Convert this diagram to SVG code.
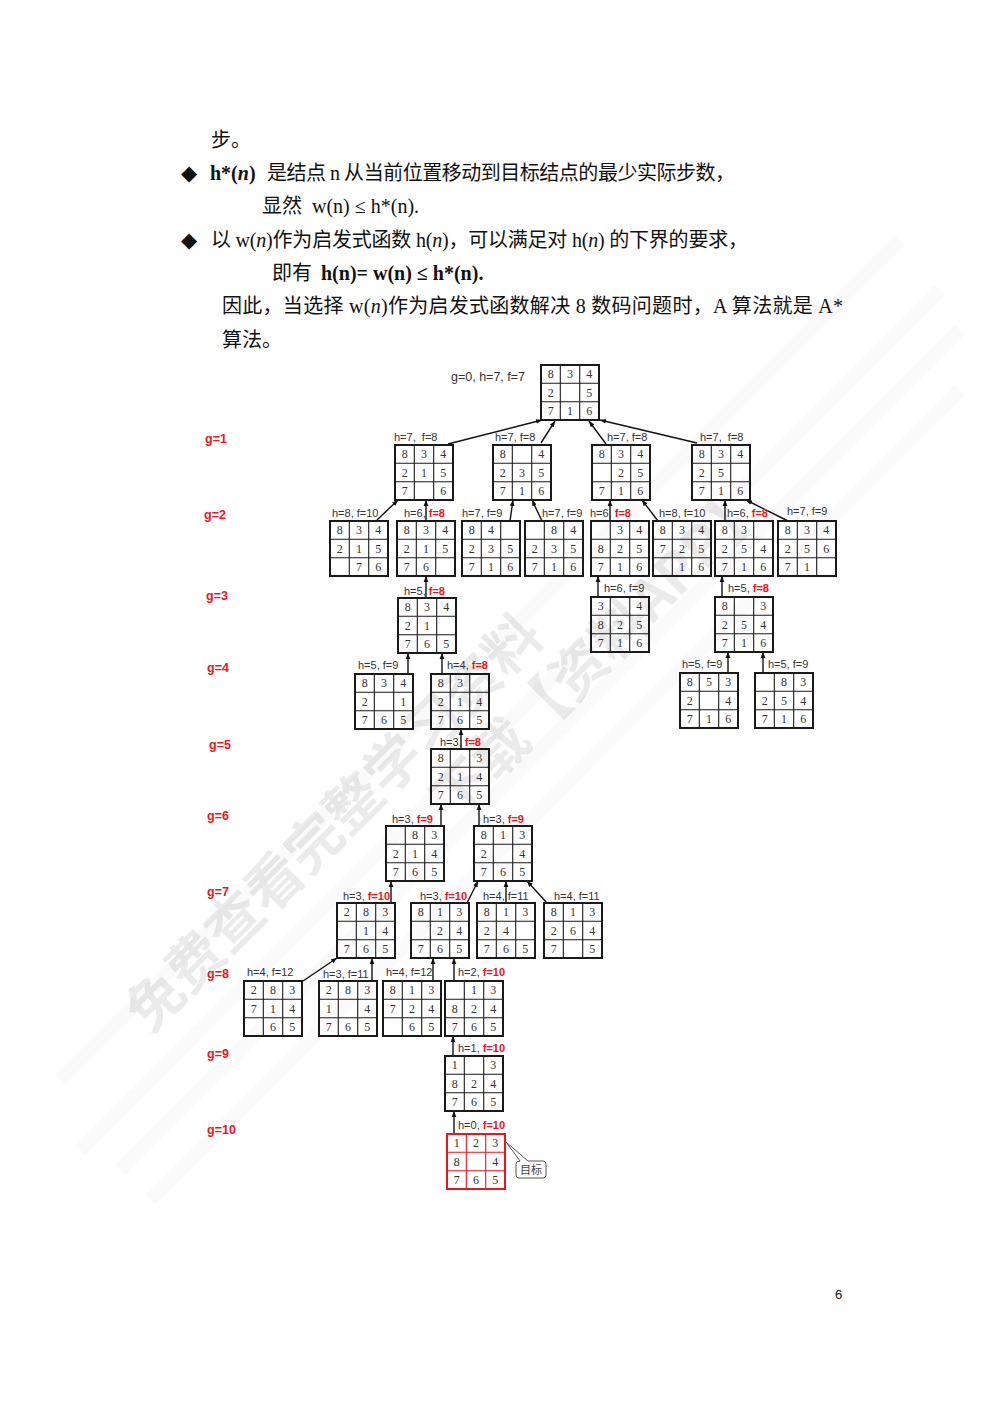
<svg xmlns="http://www.w3.org/2000/svg" width="993" height="1404" viewBox="0 0 993 1404">
<style>
.body{font-family:"Liberation Serif","Noto Sans CJK SC",serif;font-size:20px;fill:#111}
.b{font-weight:bold}
.dia{font-family:"DejaVu Sans",sans-serif;font-size:21px;fill:#111}
.n{font-family:"Liberation Serif",serif;font-size:12px;fill:#333;text-anchor:middle}
.lb{font-family:"Liberation Sans",Arial,sans-serif;font-size:11px;fill:#333}
.r{fill:#e8161e;font-weight:bold}
.g{font-family:"Liberation Sans",Arial,sans-serif;font-size:12.5px;font-weight:bold;fill:#e8161e}
.e{stroke:#111;stroke-width:1.4;fill:none;marker-end:url(#ah)}
.wm{font-family:"Noto Sans CJK SC",sans-serif;font-size:56px;font-weight:bold;fill:#000;fill-opacity:0.08}
</style>
<defs>
<marker id="ah" viewBox="0 0 10 10" refX="10" refY="5" markerUnits="userSpaceOnUse" markerWidth="6" markerHeight="6" orient="auto"><path d="M0 1L10 5L0 9z" fill="#111"/></marker>
<g id="grid" fill="none" stroke="currentColor"><rect x="0" y="0" width="58" height="55" stroke-width="2"/><path d="M19.3 0V55M38.7 0V55M0 18.3H58M0 36.7H58" stroke-width="1.1"/></g>
</defs>
<rect width="993" height="1404" fill="#fff"/>
<g id="watermark">
<path d="M80 1150L940 290M120 1170L960 330M60 1080L900 240M150 1200L960 390" stroke="#000" stroke-opacity="0.02" stroke-width="14" fill="none"/>
<text class="wm" transform="translate(150,1035) rotate(-45)">免费查看完整学习资料</text>
<text class="wm" transform="translate(455,822) rotate(-45)">下载【资料APP】</text>
</g>
<g id="text">
<text class="body" x="211" y="147">步。</text>
<text class="dia" x="181" y="180">◆</text>
<text class="body b" x="210" y="180">h*(<tspan font-style="italic">n</tspan>)</text>
<text class="body" x="267" y="180" textLength="468" lengthAdjust="spacing">是结点 n 从当前位置移动到目标结点的最少实际步数，</text>
<text class="body" x="262" y="213">显然</text>
<text class="body" x="312" y="213">w(n) ≤ h*(n).</text>
<text class="dia" x="181" y="247">◆</text>
<text class="body" x="211" y="247" textLength="537" lengthAdjust="spacing">以 w(<tspan font-style="italic">n</tspan>)作为启发式函数 h(<tspan font-style="italic">n</tspan>)，可以满足对 h(<tspan font-style="italic">n</tspan>) 的下界的要求，</text>
<text class="body" x="272" y="280">即有</text>
<text class="body b" x="321" y="280">h(n)= w(n) ≤ h*(n).</text>
<text class="body" x="222" y="313" textLength="621" lengthAdjust="spacing">因此，当选择 w(<tspan font-style="italic">n</tspan>)作为启发式函数解决 8 数码问题时，A 算法就是 A*</text>
<text class="body" x="222" y="347">算法。</text>
<text x="835" y="1299" font-family="Liberation Sans,sans-serif" font-size="13" fill="#111">6</text>
</g>
<g id="levels">
<text class="g" x="205" y="443">g=1</text>
<text class="g" x="204" y="519">g=2</text>
<text class="g" x="206" y="600">g=3</text>
<text class="g" x="207" y="672">g=4</text>
<text class="g" x="209" y="749">g=5</text>
<text class="g" x="207" y="820">g=6</text>
<text class="g" x="207" y="896">g=7</text>
<text class="g" x="207" y="978">g=8</text>
<text class="g" x="207" y="1058">g=9</text>
<text class="g" x="207" y="1134">g=10</text>
</g>
<g id="connectors">
<path class="e" d="M448 444L542 420"/>
<path class="e" d="M541 443L555 421"/>
<path class="e" d="M606 444L589 421"/>
<path class="e" d="M697 443L600 420"/>
<path class="e" d="M377 520L398 500"/>
<path class="e" d="M426 521V500"/>
<path class="e" d="M510 521L513 500"/>
<path class="e" d="M542 521L532 500"/>
<path class="e" d="M610 521V500"/>
<path class="e" d="M658 521L642 500"/>
<path class="e" d="M725 521V500"/>
<path class="e" d="M788 521L746 500"/>
<path class="e" d="M426 598V576"/>
<path class="e" d="M598 597V576"/>
<path class="e" d="M722 597V576"/>
<path class="e" d="M408 674V653"/>
<path class="e" d="M442 674V653"/>
<path class="e" d="M728 673V652"/>
<path class="e" d="M763 673V652"/>
<path class="e" d="M461 749V729"/>
<path class="e" d="M441 826V804"/>
<path class="e" d="M479 826V804"/>
<path class="e" d="M391 903V881"/>
<path class="e" d="M467 903L478 881"/>
<path class="e" d="M506 903V881"/>
<path class="e" d="M547 903L527 881"/>
<path class="e" d="M303 981L337 958"/>
<path class="e" d="M372 981V958"/>
<path class="e" d="M433 981V958"/>
<path class="e" d="M454 981V958"/>
<path class="e" d="M453 1056V1036"/>
<path class="e" d="M454 1134V1111"/>
</g>
<g id="n0" transform="translate(541,365)" color="#1a1a1a"><use href="#grid"/><text class="n" x="9.7 29 48.3" y="13.4">834</text><text class="n" x="9.7 48.3" y="31.7">25</text><text class="n" x="9.7 29 48.3" y="50">716</text><text class="lb" x="-90" y="16" style="font-size:12.5px">g=0, h=7, f=7</text></g>
<g id="n1a" transform="translate(395,445)" color="#1a1a1a"><use href="#grid"/><text class="n" x="9.7 29 48.3" y="13.4">834</text><text class="n" x="9.7 29 48.3" y="31.7">215</text><text class="n" x="9.7 48.3" y="50">76</text><text class="lb" x="-1" y="-4">h=7,&#160; f=8</text></g>
<g id="n1b" transform="translate(493,445)" color="#1a1a1a"><use href="#grid"/><text class="n" x="9.7 48.3" y="13.4">84</text><text class="n" x="9.7 29 48.3" y="31.7">235</text><text class="n" x="9.7 29 48.3" y="50">716</text><text class="lb" x="2" y="-4">h=7, f=8</text></g>
<g id="n1c" transform="translate(592,445)" color="#1a1a1a"><use href="#grid"/><text class="n" x="9.7 29 48.3" y="13.4">834</text><text class="n" x="29 48.3" y="31.7">25</text><text class="n" x="9.7 29 48.3" y="50">716</text><text class="lb" x="15" y="-4">h=7, f=8</text></g>
<g id="n1d" transform="translate(692,445)" color="#1a1a1a"><use href="#grid"/><text class="n" x="9.7 29 48.3" y="13.4">834</text><text class="n" x="9.7 29" y="31.7">25</text><text class="n" x="9.7 29 48.3" y="50">716</text><text class="lb" x="8" y="-4">h=7,&#160; f=8</text></g>
<g id="n2a" transform="translate(330,521)" color="#1a1a1a"><use href="#grid"/><text class="n" x="9.7 29 48.3" y="13.4">834</text><text class="n" x="9.7 29 48.3" y="31.7">215</text><text class="n" x="29 48.3" y="50">76</text><text class="lb" x="2" y="-4">h=8, f=10</text></g>
<g id="n2b" transform="translate(397,521)" color="#1a1a1a"><use href="#grid"/><text class="n" x="9.7 29 48.3" y="13.4">834</text><text class="n" x="9.7 29 48.3" y="31.7">215</text><text class="n" x="9.7 29" y="50">76</text><text class="lb" x="7" y="-4">h=6, <tspan class="r">f=8</tspan></text></g>
<g id="n2c" transform="translate(462,521)" color="#1a1a1a"><use href="#grid"/><text class="n" x="9.7 29" y="13.4">84</text><text class="n" x="9.7 29 48.3" y="31.7">235</text><text class="n" x="9.7 29 48.3" y="50">716</text><text class="lb" x="0" y="-4">h=7, f=9</text></g>
<g id="n2d" transform="translate(525,521)" color="#1a1a1a"><use href="#grid"/><text class="n" x="29 48.3" y="13.4">84</text><text class="n" x="9.7 29 48.3" y="31.7">235</text><text class="n" x="9.7 29 48.3" y="50">716</text><text class="lb" x="17" y="-4">h=7, f=9</text></g>
<g id="n2e" transform="translate(591,521)" color="#1a1a1a"><use href="#grid"/><text class="n" x="29 48.3" y="13.4">34</text><text class="n" x="9.7 29 48.3" y="31.7">825</text><text class="n" x="9.7 29 48.3" y="50">716</text><text class="lb" x="-1" y="-4">h=6, <tspan class="r">f=8</tspan></text></g>
<g id="n2f" transform="translate(653,521)" color="#1a1a1a"><use href="#grid"/><text class="n" x="9.7 29 48.3" y="13.4">834</text><text class="n" x="9.7 29 48.3" y="31.7">725</text><text class="n" x="29 48.3" y="50">16</text><text class="lb" x="6" y="-4">h=8, f=10</text></g>
<g id="n2g" transform="translate(715,521)" color="#1a1a1a"><use href="#grid"/><text class="n" x="9.7 29" y="13.4">83</text><text class="n" x="9.7 29 48.3" y="31.7">254</text><text class="n" x="9.7 29 48.3" y="50">716</text><text class="lb" x="12" y="-4">h=6, <tspan class="r">f=8</tspan></text></g>
<g id="n2h" transform="translate(778,521)" color="#1a1a1a"><use href="#grid"/><text class="n" x="9.7 29 48.3" y="13.4">834</text><text class="n" x="9.7 29 48.3" y="31.7">256</text><text class="n" x="9.7 29" y="50">71</text><text class="lb" x="9" y="-6">h=7, f=9</text></g>
<g id="n3a" transform="translate(398,598)" color="#1a1a1a"><use href="#grid"/><text class="n" x="9.7 29 48.3" y="13.4">834</text><text class="n" x="9.7 29" y="31.7">21</text><text class="n" x="9.7 29 48.3" y="50">765</text><text class="lb" x="6" y="-3">h=5, <tspan class="r">f=8</tspan></text></g>
<g id="n3b" transform="translate(591,597)" color="#1a1a1a"><use href="#grid"/><text class="n" x="9.7 48.3" y="13.4">34</text><text class="n" x="9.7 29 48.3" y="31.7">825</text><text class="n" x="9.7 29 48.3" y="50">716</text><text class="lb" x="13" y="-5">h=6, f=9</text></g>
<g id="n3c" transform="translate(715,597)" color="#1a1a1a"><use href="#grid"/><text class="n" x="9.7 48.3" y="13.4">83</text><text class="n" x="9.7 29 48.3" y="31.7">254</text><text class="n" x="9.7 29 48.3" y="50">716</text><text class="lb" x="13" y="-5">h=5, <tspan class="r">f=8</tspan></text></g>
<g id="n4a" transform="translate(355,674)" color="#1a1a1a"><use href="#grid"/><text class="n" x="9.7 29 48.3" y="13.4">834</text><text class="n" x="9.7 48.3" y="31.7">21</text><text class="n" x="9.7 29 48.3" y="50">765</text><text class="lb" x="3" y="-5">h=5, f=9</text></g>
<g id="n4b" transform="translate(431,674)" color="#1a1a1a"><use href="#grid"/><text class="n" x="9.7 29" y="13.4">83</text><text class="n" x="9.7 29 48.3" y="31.7">214</text><text class="n" x="9.7 29 48.3" y="50">765</text><text class="lb" x="16" y="-5">h=4, <tspan class="r">f=8</tspan></text></g>
<g id="n4c" transform="translate(680,673)" color="#1a1a1a"><use href="#grid"/><text class="n" x="9.7 29 48.3" y="13.4">853</text><text class="n" x="9.7 48.3" y="31.7">24</text><text class="n" x="9.7 29 48.3" y="50">716</text><text class="lb" x="2" y="-5">h=5, f=9</text></g>
<g id="n4d" transform="translate(755,673)" color="#1a1a1a"><use href="#grid"/><text class="n" x="29 48.3" y="13.4">83</text><text class="n" x="9.7 29 48.3" y="31.7">254</text><text class="n" x="9.7 29 48.3" y="50">716</text><text class="lb" x="13" y="-5">h=5, f=9</text></g>
<g id="n5" transform="translate(431,749)" color="#1a1a1a"><use href="#grid"/><text class="n" x="9.7 48.3" y="13.4">83</text><text class="n" x="9.7 29 48.3" y="31.7">214</text><text class="n" x="9.7 29 48.3" y="50">765</text><text class="lb" x="9" y="-3">h=3, <tspan class="r">f=8</tspan></text></g>
<g id="n6a" transform="translate(386,826)" color="#1a1a1a"><use href="#grid"/><text class="n" x="29 48.3" y="13.4">83</text><text class="n" x="9.7 29 48.3" y="31.7">214</text><text class="n" x="9.7 29 48.3" y="50">765</text><text class="lb" x="6" y="-3">h=3, <tspan class="r">f=9</tspan></text></g>
<g id="n6b" transform="translate(474,826)" color="#1a1a1a"><use href="#grid"/><text class="n" x="9.7 29 48.3" y="13.4">813</text><text class="n" x="9.7 48.3" y="31.7">24</text><text class="n" x="9.7 29 48.3" y="50">765</text><text class="lb" x="9" y="-3">h=3, <tspan class="r">f=9</tspan></text></g>
<g id="n7a" transform="translate(337,903)" color="#1a1a1a"><use href="#grid"/><text class="n" x="9.7 29 48.3" y="13.4">283</text><text class="n" x="29 48.3" y="31.7">14</text><text class="n" x="9.7 29 48.3" y="50">765</text><text class="lb" x="6" y="-3">h=3, <tspan class="r">f=10</tspan></text></g>
<g id="n7b" transform="translate(411,903)" color="#1a1a1a"><use href="#grid"/><text class="n" x="9.7 29 48.3" y="13.4">813</text><text class="n" x="29 48.3" y="31.7">24</text><text class="n" x="9.7 29 48.3" y="50">765</text><text class="lb" x="9" y="-3">h=3, <tspan class="r">f=10</tspan></text></g>
<g id="n7c" transform="translate(477,903)" color="#1a1a1a"><use href="#grid"/><text class="n" x="9.7 29 48.3" y="13.4">813</text><text class="n" x="9.7 29" y="31.7">24</text><text class="n" x="9.7 29 48.3" y="50">765</text><text class="lb" x="6" y="-3">h=4, f=11</text></g>
<g id="n7d" transform="translate(544,903)" color="#1a1a1a"><use href="#grid"/><text class="n" x="9.7 29 48.3" y="13.4">813</text><text class="n" x="9.7 29 48.3" y="31.7">264</text><text class="n" x="9.7 48.3" y="50">75</text><text class="lb" x="10" y="-3">h=4, f=11</text></g>
<g id="n8a" transform="translate(244,981)" color="#1a1a1a"><use href="#grid"/><text class="n" x="9.7 29 48.3" y="13.4">283</text><text class="n" x="9.7 29 48.3" y="31.7">714</text><text class="n" x="29 48.3" y="50">65</text><text class="lb" x="3" y="-5">h=4, f=12</text></g>
<g id="n8b" transform="translate(319,981)" color="#1a1a1a"><use href="#grid"/><text class="n" x="9.7 29 48.3" y="13.4">283</text><text class="n" x="9.7 48.3" y="31.7">14</text><text class="n" x="9.7 29 48.3" y="50">765</text><text class="lb" x="4" y="-3">h=3, f=11</text></g>
<g id="n8c" transform="translate(383,981)" color="#1a1a1a"><use href="#grid"/><text class="n" x="9.7 29 48.3" y="13.4">813</text><text class="n" x="9.7 29 48.3" y="31.7">724</text><text class="n" x="29 48.3" y="50">65</text><text class="lb" x="3" y="-5">h=4, f=12</text></g>
<g id="n8d" transform="translate(445,981)" color="#1a1a1a"><use href="#grid"/><text class="n" x="29 48.3" y="13.4">13</text><text class="n" x="9.7 29 48.3" y="31.7">824</text><text class="n" x="9.7 29 48.3" y="50">765</text><text class="lb" x="13" y="-5">h=2, <tspan class="r">f=10</tspan></text></g>
<g id="n9" transform="translate(445,1056)" color="#1a1a1a"><use href="#grid"/><text class="n" x="9.7 48.3" y="13.4">13</text><text class="n" x="9.7 29 48.3" y="31.7">824</text><text class="n" x="9.7 29 48.3" y="50">765</text><text class="lb" x="13" y="-4">h=1, <tspan class="r">f=10</tspan></text></g>
<g id="n10" transform="translate(447,1134)" color="#e8161e"><use href="#grid"/><text class="n" x="9.7 29 48.3" y="13.4">123</text><text class="n" x="9.7 48.3" y="31.7">84</text><text class="n" x="9.7 29 48.3" y="50">765</text><text class="lb" x="11" y="-5">h=0, <tspan class="r">f=10</tspan></text></g>
<g id="callout">
<path d="M520 1161L506 1142L528 1161H543Q546 1161 546 1164V1175Q546 1178 543 1178H519Q516 1178 516 1175V1164Q516 1161 520 1161Z" fill="#fff" stroke="#555" stroke-width="1"/>
<text x="531" y="1174" text-anchor="middle" font-family="Noto Sans CJK SC,sans-serif" font-size="11" fill="#444">目标</text>
</g>
</svg>
